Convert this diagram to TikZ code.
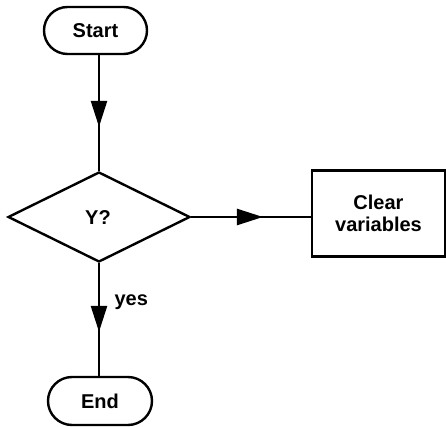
\documentclass[tikz,border=0pt]{standalone}
\usepackage{fontspec}
\setmainfont{Liberation Sans}
\usetikzlibrary{shapes.geometric,arrows.meta,decorations.markings}
\begin{document}
\begin{tikzpicture}[x=1pt,y=-1pt,
  line width=2.4pt,
  every node/.style={font=\fontsize{20}{22}\selectfont\bfseries},
  terminal/.style={draw,rounded corners=23.5pt,minimum width=103pt,minimum height=47pt,inner sep=0pt},
  decision/.style={draw,diamond,aspect=2,minimum width=182pt,minimum height=90pt,inner sep=0pt},
  process/.style={draw,minimum width=133pt,minimum height=86pt,inner sep=0pt,align=center},
  flow/.style={postaction={decorate},decoration={markings,
    mark=at position #1 with {\arrow{Triangle[length=26pt,width=16pt]}}}}]
\useasboundingbox (0,0) rectangle (446,427);
% nodes
\node[terminal] (start) at (95.5,30.5) {Start};
\node[decision] (dia) at (99,217) {};
\node at (98,218) (dialabel) {Y?};
\node[process] (clear) at (378.5,213.5) {Clear\\variables};
\node[terminal,minimum width=104pt,minimum height=48pt,rounded corners=24pt] (end) at (100,401) {End};
% connectors
\draw[flow=0.62] (start.south -| dia.north) -- (dia.north);
\draw[flow=0.60] (dia.east) -- (dia.east -| clear.west);
\draw[flow=0.61] (dia.south) -- (dia.south |- end.north)
  node[pos=0.35,right=11pt] (yes) {yes};
\end{tikzpicture}
\end{document}
